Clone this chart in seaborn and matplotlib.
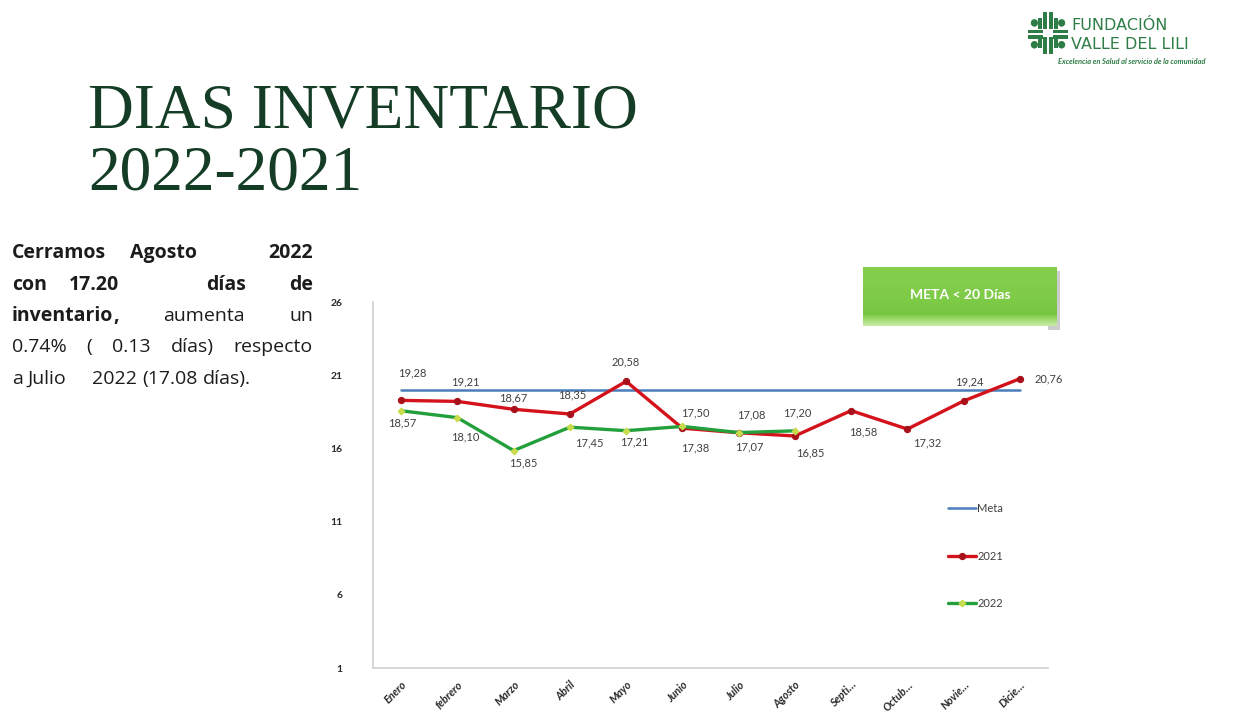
import numpy as np
import pandas as pd
import matplotlib
matplotlib.use("Agg")
import matplotlib.pyplot as plt
import seaborn as sns
from matplotlib.patches import Rectangle, Circle
from matplotlib.colors import LinearSegmentedColormap

# ---- data -------------------------------------------------------------
meses = ["Enero", "febrero", "Marzo", "Abril", "Mayo", "Junio", "Julio",
         "Agosto", "Septi…", "Octub…", "Novie…", "Dicie…"]
meta = [20, 20, 20, 20, 20, 20, 20, 20, 20, 20, 20, 20]
dias_2021 = [19.28, 19.21, 18.67, 18.35, 20.58, 17.38, 17.07, 16.85,
             18.58, 17.32, 19.24, 20.76]
dias_2022 = [18.57, 18.10, 15.85, 17.45, 17.21, 17.50, 17.08, 17.20]
y_ticks = [1, 6, 11, 16, 21, 26]

# label offsets (points) for the data labels of each series
off_2021 = [(8, 20), (6, 14), (0, 8), (2, 14), (0, 14), (9, -14), (8, -10),
            (11, -12), (9, -15), (14, -10), (4, 14), (21, 0)]
off_2022 = [(1, -9), (6, -14), (7, -9), (14, -11), (6, -8), (9, 10),
            (9, 13), (2, 13)]

# ---- figure -----------------------------------------------------------
sns.set_theme(style="white")
plt.rcParams["font.family"] = ["Lato", "DejaVu Sans"]

W, H = 1242, 723
fig = plt.figure(figsize=(W / 100, H / 100), dpi=100)
fig.patch.set_facecolor("white")


def fx(px):
    return px / W


def fy(py):
    return 1 - py / H


ax = fig.add_axes([fx(373), fy(668), fx(1048) - fx(373), fy(302) - fy(668)])

x = np.arange(len(meses))
df_meta = pd.DataFrame({"x": x, "v": meta})
df21 = pd.DataFrame({"x": x, "v": dias_2021})
df22 = pd.DataFrame({"x": x[:len(dias_2022)], "v": dias_2022})

c_meta = "#4a7ebb"
c21 = "#d4121c"
c22 = "#23a03c"

sns.lineplot(data=df_meta, x="x", y="v", ax=ax, color=c_meta, lw=1.8,
             label="Meta")
sns.lineplot(data=df21, x="x", y="v", ax=ax, color=c21, lw=2.4,
             marker="o", markersize=4.5, markerfacecolor="#a8101a",
             markeredgecolor="#a8101a", label="2021")
sns.lineplot(data=df22, x="x", y="v", ax=ax, color=c22, lw=2.4,
             marker="D", markersize=3.5, markerfacecolor="#c9dc4c",
             markeredgecolor="#c9dc4c", label="2022")

lbl_kw = dict(fontsize=8, color="#404040", ha="center", va="center",
              textcoords="offset points")
for xi, v, off in zip(x, dias_2021, off_2021):
    ax.annotate(f"{v:.2f}".replace(".", ","), (xi, v), xytext=off, **lbl_kw)
for xi, v, off in zip(x, dias_2022, off_2022):
    ax.annotate(f"{v:.2f}".replace(".", ","), (xi, v), xytext=off, **lbl_kw)

ax.set_xlim(-0.5, len(meses) - 0.5)
ax.set_ylim(1, 26)
ax.set_yticks(y_ticks)
ax.set_yticklabels([str(t) for t in y_ticks], fontsize=7.5, fontweight="bold",
                   color="#2a2a2a")
ax.set_xticks(x)
ax.set_xticklabels(meses, rotation=45, ha="right", rotation_mode="anchor",
                   fontsize=7.8, fontweight="bold", fontstyle="italic",
                   color="#2a2a2a")
ax.tick_params(axis="both", length=0)
ax.tick_params(axis="y", pad=22)
ax.tick_params(axis="x", pad=8)
ax.set_xlabel("")
ax.set_ylabel("")
for s in ["top", "right"]:
    ax.spines[s].set_visible(False)
for s in ["left", "bottom"]:
    ax.spines[s].set_color("#d0d0d0")
    ax.spines[s].set_linewidth(1.2)
ax.grid(False)

leg = ax.legend(loc="upper left", bbox_to_anchor=(fx(948), fy(503)),
                bbox_transform=fig.transFigure, frameon=False, fontsize=8,
                labelspacing=3.3, handlelength=2.5, handletextpad=0.15,
                borderpad=0, borderaxespad=0)
for t in leg.get_texts():
    t.set_color("#404040")

# ---- title ------------------------------------------------------------
title_kw = dict(family="Liberation Serif", fontsize=45.6, color="#153d26",
                ha="left", va="baseline")
fig.text(fx(88), fy(127), "DIAS INVENTARIO", **title_kw)
fig.text(fx(88), fy(190), "2022-2021", **title_kw)

# ---- justified paragraph on the left ----------------------------------
renderer = fig.canvas.get_renderer()
para_size = 14
para_color = "#1c1c1c"
para_family = ["Open Sans", "DejaVu Sans"]
lines = [
    ([("Cerramos", True), ("Agosto", True), ("2022", True)], [1, 3], True),
    ([("con", True), ("17.20", True), ("días", True), ("de", True)], [1, 4, 2], True),
    ([("inventario", True), (",", True), ("aumenta", False), ("un", False)],
     [0, 1, 1], True),
    ([("0.74%", False), ("(", False), ("0.13", False), ("días)", False),
      ("respecto", False)], [1, 1, 1, 1], True),
    ([("a", False), ("Julio", False), ("2022", False), ("(17.08", False),
      ("días).", False)], [1, 5, 1, 1], False),
]
x_left, x_right = 12, 313
baselines = [258, 290, 321, 352, 384]
for (words, weights, justify), base in zip(lines, baselines):
    objs = []
    for w, bold in words:
        t = fig.text(0, fy(base), w, fontsize=para_size, color=para_color,
                     family=para_family,
                     fontweight="bold" if bold else "normal", va="baseline",
                     ha="left")
        objs.append(t)
    widths = [t.get_window_extent(renderer).width for t in objs]
    if justify:
        free = (x_right - x_left) - sum(widths)
        unit = free / sum(weights)
    else:
        unit = para_size * 100 / 72 * 0.26
    cur = x_left
    for i, t in enumerate(objs):
        t.set_x(fx(cur))
        cur += widths[i]
        if i < len(weights):
            cur += unit * weights[i]

# ---- "META < 20 Días" badge ------------------------------------------
bx0, by0, bx1, by1 = 863, 267, 1057, 326
shadow = Rectangle((fx(bx0 + 3), fy(by1 + 4)), fx(bx1) - fx(bx0),
                   fy(by0) - fy(by1), transform=fig.transFigure,
                   facecolor="#9a9a9a", edgecolor="none", alpha=0.5,
                   zorder=-5)
fig.patches.append(shadow)
gax = fig.add_axes([fx(bx0), fy(by1), fx(bx1) - fx(bx0), fy(by0) - fy(by1)])
gax.set_zorder(2)
grad = np.linspace(0, 1, 80)[:, None]
cmap = LinearSegmentedColormap.from_list(
    "badge", [(0.0, "#86cf4e"), (0.55, "#7ecb48"), (0.8, "#76c541"),
              (0.9, "#a2da72"), (1.0, "#c8eba6")])
gax.imshow(grad, aspect="auto", cmap=cmap, extent=(0, 1, 0, 1),
           origin="upper", interpolation="bilinear")
gax.set_axis_off()
gax.text(0.5, 0.52, "META < 20 Días", transform=gax.transAxes,
         fontsize=10, fontweight="bold", color="white", ha="center",
         va="center")

# ---- institution logo -------------------------------------------------
logo_green = "#2f7d46"
lax = fig.add_axes([fx(1028), fy(54), fx(1068) - fx(1028), fy(12) - fy(54)])
lax.set_xlim(0, 10)
lax.set_ylim(0, 10)
lax.set_axis_off()
# bars and dots of the emblem
for (rx, ry, rw, rh) in [(3.8, 6.0, 0.9, 4.0), (5.3, 6.0, 0.9, 4.0),
                         (3.8, 0.0, 0.9, 4.0), (5.3, 0.0, 0.9, 4.0),
                         (0.0, 4.9, 3.8, 0.9), (6.2, 4.9, 3.8, 0.9),
                         (0.0, 3.6, 3.8, 0.9), (6.2, 3.6, 3.8, 0.9),
                         (2.6, 6.0, 0.9, 2.5), (6.5, 6.0, 0.9, 2.5),
                         (2.6, 1.5, 0.9, 2.1), (6.5, 1.5, 0.9, 2.1)]:
    lax.add_patch(Rectangle((rx, ry), rw, rh, color=logo_green, lw=0))
for (cx, cy) in [(1.6, 7.4), (8.4, 7.4), (1.6, 2.2), (8.4, 2.2)]:
    lax.add_patch(Circle((cx, cy), 0.9, color=logo_green, lw=0))
logo_font = ["DejaVu Sans"]
fig.text(fx(1071), fy(30), "FUNDACIÓN", fontsize=11.5, color=logo_green,
         family=logo_font, ha="left", va="baseline")
fig.text(fx(1071), fy(49), "VALLE DEL LILI", fontsize=11.5, color=logo_green,
         family=logo_font, ha="left", va="baseline")
fig.text(fx(1132), fy(62), "Excelencia en Salud al servicio de la comunidad",
         fontsize=5.4, color=logo_green, fontweight="bold", fontstyle="italic",
         ha="center", va="center")

fig.savefig("out.png", dpi=100, facecolor="white")
